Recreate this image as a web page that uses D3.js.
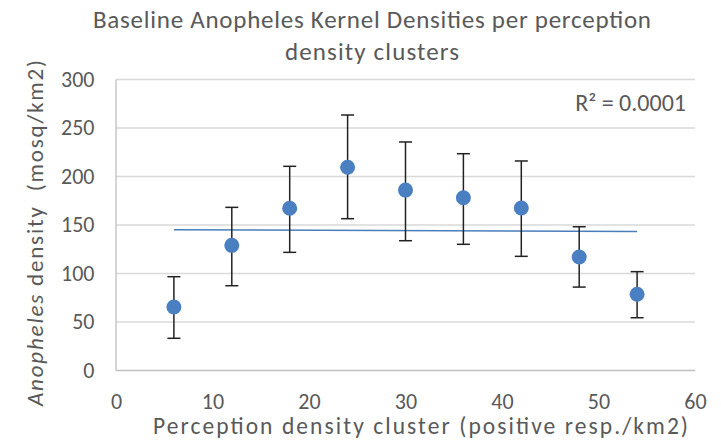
<!DOCTYPE html>
<html lang="en"><head>
<meta charset="utf-8">
<title>Anopheles densities</title>
<script src="https://cdn.jsdelivr.net/npm/d3@7"></script>
<style>
body { margin: 0; background: #fff; }
text { font-family: Carlito, Calibri, "Open Sans", "Liberation Sans", sans-serif; fill: #595959; }
</style>
</head>
<body>
<script type="text/javascript">

var width = 721;
var height = 441;

// cluster centres and mean densities
var clusters = [6, 12, 18, 24, 30, 36, 42, 48, 54];
var densities = [65.5, 129, 167.2, 209.5, 186, 178.1, 167.5, 117, 78.6];
var errUpper = [96.7, 168.2, 210.5, 263.4, 235.6, 223.5, 216, 148.2, 101.9];
var errLower = [33.2, 87.4, 121.8, 156.5, 133.8, 130.1, 117.7, 86, 54.4];
var xTicks = [0, 10, 20, 30, 40, 50, 60];
var yTicks = [0, 50, 100, 150, 200, 250, 300];
var titleLines = ["Baseline Anopheles Kernel Densities per perception", "density clusters"];

var margin = {top: 79.5, right: 26, bottom: 70.5, left: 116};

var svg = d3.select("body").append("svg")
    .attr("width", width)
    .attr("height", height);

var x = d3.scaleLinear()
    .domain([0, 60])
    .range([margin.left, width - margin.right]);

var y = d3.scaleLinear()
    .domain([0, 300])
    .range([height - margin.bottom, margin.top]);

// gridlines
svg.append("g")
    .selectAll("line")
    .data(yTicks)
    .enter()
    .append("line")
    .attr("x1", x(0))
    .attr("x2", x(60))
    .attr("y1", d => y(d))
    .attr("y2", d => y(d))
    .attr("stroke", d => d == 0 ? "#bfbfbf" : "#d9d9d9")
    .attr("stroke-width", 1.3);

svg.append("line")
    .attr("x1", x(0)).attr("x2", x(0))
    .attr("y1", y(0)).attr("y2", y(300))
    .attr("stroke", "#bfbfbf")
    .attr("stroke-width", 1.3);

// axes (labels only)
var yAxis = svg.append("g")
    .attr("transform", "translate(" + x(0) + ",0)")
    .call(d3.axisLeft(y).tickValues(yTicks).tickSize(0).tickPadding(21.5));
yAxis.select(".domain").remove();
yAxis.selectAll("text")
    .style("font-size", "22px")
    .attr("dy", "0.3em")
    .attr("fill", "#595959")
    .attr("font-family", null);

var xAxis = svg.append("g")
    .attr("transform", "translate(0," + y(0) + ")")
    .call(d3.axisBottom(x).tickValues(xTicks).tickSize(0).tickPadding(22.5));
xAxis.select(".domain").remove();
xAxis.selectAll("text")
    .style("font-size", "22px")
    .attr("fill", "#595959")
    .attr("font-family", null);

// linear trend line from the data
var mx = d3.mean(clusters);
var my = d3.mean(densities);
var sxy = d3.sum(clusters, (c, i) => (c - mx) * (densities[i] - my));
var sxx = d3.sum(clusters, c => (c - mx) * (c - mx));
var slope = sxy / sxx;
var intercept = my - slope * mx;
var xMin = d3.min(clusters), xMax = d3.max(clusters);

svg.append("line")
    .attr("x1", x(xMin))
    .attr("x2", x(xMax))
    .attr("y1", y(intercept + slope * xMin))
    .attr("y2", y(intercept + slope * xMax))
    .attr("stroke", "#4a7ebb")
    .attr("stroke-width", 1.5);

// error bars
var bars = svg.append("g")
    .selectAll("g")
    .data(clusters)
    .enter()
    .append("g")
    .attr("stroke", "#222")
    .attr("stroke-width", 1.5);

bars.append("line")
    .attr("x1", d => x(d)).attr("x2", d => x(d))
    .attr("y1", (d, i) => y(errUpper[i]))
    .attr("y2", (d, i) => y(errLower[i]));
bars.append("line")
    .attr("x1", d => x(d) - 6.5).attr("x2", d => x(d) + 6.5)
    .attr("y1", (d, i) => y(errUpper[i]))
    .attr("y2", (d, i) => y(errUpper[i]));
bars.append("line")
    .attr("x1", d => x(d) - 6.5).attr("x2", d => x(d) + 6.5)
    .attr("y1", (d, i) => y(errLower[i]))
    .attr("y2", (d, i) => y(errLower[i]));

// points
svg.append("g")
    .selectAll("circle")
    .data(clusters)
    .enter()
    .append("circle")
    .attr("cx", d => x(d))
    .attr("cy", (d, i) => y(densities[i]))
    .attr("r", 7.5)
    .attr("fill", "#4a7fc1");

// title
var titleWidths = [558, 174];
svg.append("g")
    .selectAll("text")
    .data(titleLines)
    .enter()
    .append("text")
    .attr("x", 372)
    .attr("y", (d, i) => 27.7 + i * 31.8)
    .attr("text-anchor", "middle")
    .attr("textLength", (d, i) => titleWidths[i])
    .attr("lengthAdjust", "spacing")
    .style("font-size", "25px")
    .text(d => d);

// axis titles
svg.append("text")
    .attr("x", 420.5)
    .attr("y", 434)
    .attr("text-anchor", "middle")
    .attr("textLength", 535)
    .attr("lengthAdjust", "spacing")
    .style("font-size", "23.5px")
    .text("Perception density cluster (positive resp./km2)");

var yTitle = svg.append("text")
    .attr("transform", "translate(42.5,406) rotate(-90)")
    .attr("textLength", 346)
    .attr("lengthAdjust", "spacing")
    .style("font-size", "23px");
yTitle.append("tspan").style("font-style", "italic").text("Anopheles");
yTitle.append("tspan").attr("xml:space", "preserve").text(" density  (mosq/km2)");

// R squared label
svg.append("text")
    .attr("x", 686)
    .attr("y", 110.5)
    .attr("text-anchor", "end")
    .style("font-size", "24px")
    .text("R\u00b2 = 0.0001");

</script>
</body></html>
